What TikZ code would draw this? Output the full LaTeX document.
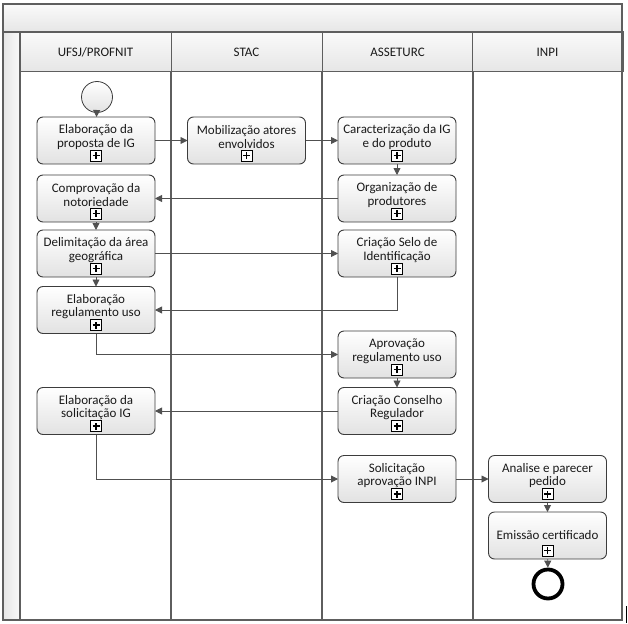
\documentclass[tikz,border=0pt]{standalone}
\usepackage{fontspec}
\setmainfont{Carlito}
\usetikzlibrary{arrows.meta}
\definecolor{framegray}{HTML}{5E5E5E}
\definecolor{linegray}{HTML}{505050}
\definecolor{boxline}{HTML}{3C3C3C}
\definecolor{fillbot}{HTML}{E2E2E2}
\definecolor{hdrtop}{HTML}{FAFAFA}
\definecolor{hdrbot}{HTML}{E6E6E6}
\definecolor{txt}{HTML}{1A1A1A}
\newcommand{\tk}[2][7pt]{\parbox[c][47pt][c]{118pt}{\centering #2\par\vspace{#1}}}
\tikzset{
  labelfont/.style={font=\fontsize{13}{13.6}\selectfont, text=txt},
  task/.style={draw=boxline, line width=0.9pt, rounded corners=6pt,
    top color=white, bottom color=fillbot, inner sep=0pt, outer sep=0pt,
    minimum width=118pt, minimum height=47pt, labelfont,
    path picture={
      \draw[sharp corners, draw=black, line width=0.9pt, fill=white]
        ([xshift=-5.5pt,yshift=3pt]path picture bounding box.south) rectangle ++(11pt,11pt);
      \draw[sharp corners, draw=black, line width=1.5pt]
        ([yshift=8.5pt]path picture bounding box.south) +(-3.5pt,0pt) -- +(3.5pt,0pt)
        +(0pt,-3.5pt) -- +(0pt,3.5pt);
    }},
  startev/.style={circle, draw=boxline, line width=0.8pt, top color=white,
    bottom color=fillbot, minimum size=31pt, inner sep=0pt, outer sep=0pt},
  endev/.style={circle, draw=black, line width=3.8pt, fill=white,
    minimum size=29pt, inner sep=0pt, outer sep=1.9pt},
  lanehead/.style={draw=framegray, line width=1pt, top color=hdrtop,
    bottom color=hdrbot, minimum width=151pt, minimum height=40pt,
    inner sep=0pt, outer sep=0pt, labelfont},
  laneline/.style={draw=framegray, line width=1.1pt},
  frameline/.style={draw=framegray, line width=1.6pt},
  conn/.style={draw=linegray, line width=0.9pt, -{Triangle[length=7pt,width=7pt]}}
}
\begin{document}
\begin{tikzpicture}[x=1pt,y=-1pt]
\useasboundingbox (0,0) rectangle (628,623);
% top band and left strip
\shade[top color=hdrtop, bottom color=hdrbot] (3,4) rectangle (622,32);
\shade[left color=hdrbot, right color=hdrtop] (3,32) rectangle (20,620);
% lane headers
\node[lanehead] (h1) at (95.5,52) {UFSJ/PROFNIT};
\node[lanehead] (h2) at (246.5,52) {STAC};
\node[lanehead] (h3) at (397.5,52) {ASSETURC};
\node[lanehead] (h4) at (547.5,52) {INPI};
% lane lines
\draw[laneline] (171,72) -- (171,620);
\draw[laneline] (322,72) -- (322,620);
\draw[laneline] (473,72) -- (473,620);
\draw[laneline] (20,32) -- (20,620);
\draw[frameline] (3,32) -- (622,32);
\draw[frameline] (3,4) rectangle (622,620);
\draw[black, line width=1pt] (626,606) -- (626,623);

% events
\node[startev] (start) at (97,97) {};
\node[endev] (end) at (548,584) {};

% tasks
\node[task] (A) at (96,140.5) {\tk{Elaboração da\\proposta de IG}};
\node[task] (B) at (246.5,140.5) {\tk{Mobilização atores\\envolvidos}};
\node[task] (C) at (397,140.5) {\tk{Caracterização da IG\\e do produto}};
\node[task] (D) at (397,198.5) {\tk{Organização de\\produtores}};
\node[task] (E) at (96,198.5) {\tk{Comprovação da\\notoriedade}};
\node[task] (F) at (96,253.5) {\tk{Delimitação da área\\geográfica}};
\node[task] (G) at (397,253.5) {\tk{Criação Selo de\\Identificação}};
\node[task] (H) at (96,310) {\tk{Elaboração\\regulamento uso}};
\node[task] (I) at (397,354.5) {\tk{Aprovação\\regulamento uso}};
\node[task] (J) at (397,411) {\tk{Criação Conselho\\Regulador}};
\node[task] (K) at (96,411) {\tk{Elaboração da\\solicitação IG}};
\node[task] (L) at (397,479) {\tk{Solicitação\\aprovação INPI}};
\node[task] (M) at (547.5,479) {\tk{Analise e parecer\\pedido}};
\node[task] (N) at (547.5,535.5) {\tk[0pt]{Emissão certificado}};

% connectors
\draw[conn] (start) -- (A);
\draw[conn] (A) -- (B);
\draw[conn] (B) -- (C);
\draw[conn] (C) -- (D);
\draw[conn] (D) -- (E);
\draw[conn] (E) -- (F);
\draw[conn] (F) -- (G);
\draw[conn] (F) -- (H);
\draw[conn] (G.south) |- (H.east);
\draw[conn] (H.south) |- (I.west);
\draw[conn] (I) -- (J);
\draw[conn] (J) -- (K);
\draw[conn] (K.south) |- (L.west);
\draw[conn] (L) -- (M);
\draw[conn] (M) -- (N);
\draw[conn] (N) -- (end);
\end{tikzpicture}
\end{document}
